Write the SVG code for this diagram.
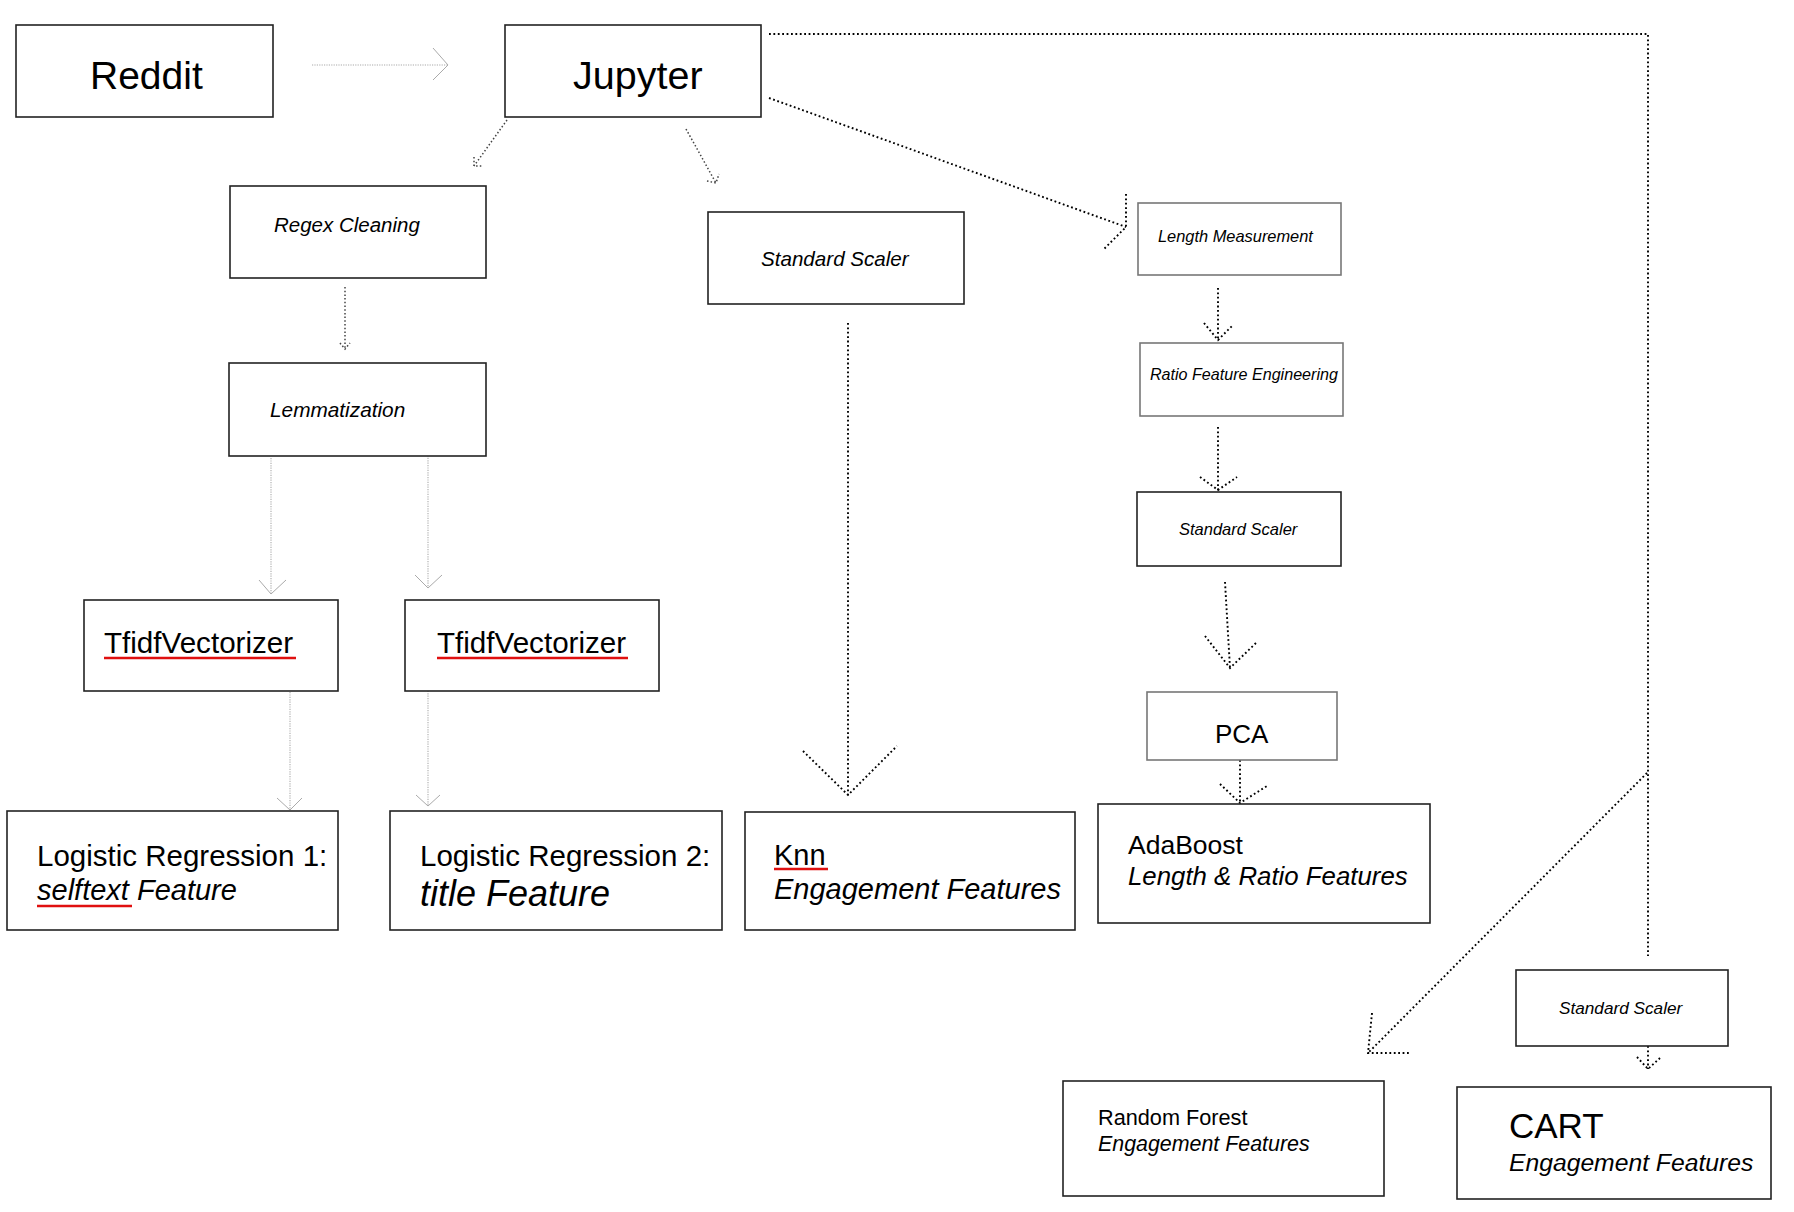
<svg xmlns="http://www.w3.org/2000/svg" width="1794" height="1212" viewBox="0 0 1794 1212">
<style>
  .box{fill:#fff;stroke:#222;stroke-width:1.6}
  .gbox{fill:#fff;stroke:#777;stroke-width:1.6}
  text{font-family:"Liberation Sans",Arial,Helvetica,sans-serif;fill:#000}
  .it{font-style:italic}
  .dk{fill:none;stroke:#000;stroke-width:1.9;stroke-dasharray:1.8 2.6}
  .md{fill:none;stroke:#444;stroke-width:1.5;stroke-dasharray:1.5 2.2}
  .lt{fill:none;stroke:#aaa;stroke-width:1.1;stroke-dasharray:1.2 1.2}
  .lts{fill:none;stroke:#aaa;stroke-width:1}
  .ul{stroke:#e01010;stroke-width:2.4}
</style>
<rect width="1794" height="1212" fill="#fff"/>
<g id="connectors">
  <line class="lt" x1="312" y1="65" x2="448" y2="65"/>
  <polyline class="lts" points="433,48 448,65 433,80"/>
  <line class="md" x1="507" y1="120" x2="474" y2="166"/>
  <polyline class="md" points="474,157 474,166 483,166"/>
  <line class="md" x1="686" y1="129" x2="716" y2="183"/>
  <polyline class="md" points="707,181 716,183 719,174"/>
  <line class="dk" x1="769" y1="98" x2="1126" y2="227"/>
  <polyline class="dk" points="1126,194 1126,227 1103,250"/>
  <polyline class="dk" points="769,34 1648,34 1648,956"/>
  <line class="dk" x1="1647" y1="773" x2="1368" y2="1053"/>
  <polyline class="dk" points="1372,1013 1368,1053 1411,1053"/>
  <line class="dk" x1="1648" y1="1046" x2="1648" y2="1069"/>
  <polyline class="dk" points="1637,1057 1648,1069 1660,1058"/>
  <line class="md" x1="345" y1="287" x2="345" y2="349"/>
  <polyline class="md" points="340,343 345,349 350,343"/>
  <line class="lt" x1="271" y1="458" x2="271" y2="594"/>
  <polyline class="lts" points="259,580 271,594 286,580"/>
  <line class="lt" x1="428" y1="453" x2="428" y2="588"/>
  <polyline class="lts" points="415,575 428,588 442,575"/>
  <line class="lt" x1="290" y1="692" x2="290" y2="810"/>
  <polyline class="lts" points="277,798 290,810 302,798"/>
  <line class="lt" x1="428" y1="686" x2="428" y2="806"/>
  <polyline class="lts" points="416,795 428,806 440,795"/>
  <line class="dk" x1="848" y1="323" x2="848" y2="795"/>
  <polyline class="dk" points="803,751 848,795 897,746"/>
  <line class="dk" x1="1218" y1="288" x2="1218" y2="340"/>
  <polyline class="dk" points="1204,323 1218,340 1232,326"/>
  <line class="dk" x1="1218" y1="427" x2="1218" y2="490"/>
  <polyline class="dk" points="1200,477 1218,490 1237,477"/>
  <line class="dk" x1="1225" y1="582" x2="1230" y2="668"/>
  <polyline class="dk" points="1205,636 1230,668 1256,643"/>
  <line class="dk" x1="1240" y1="760" x2="1240" y2="803"/>
  <polyline class="dk" points="1220,784 1240,803 1267,786"/>
</g>
<g id="reddit">
  <rect class="box" x="16" y="25" width="257" height="92"/>
  <text x="90" y="89" font-size="39">Reddit</text>
</g>
<g id="jupyter">
  <rect class="box" x="505" y="25" width="256" height="92"/>
  <text x="573" y="89" font-size="39.5">Jupyter</text>
</g>
<g id="regex">
  <rect class="box" x="230" y="186" width="256" height="92"/>
  <text class="it" x="274" y="232" font-size="20.5">Regex Cleaning</text>
</g>
<g id="stdscaler1">
  <rect class="box" x="708" y="212" width="256" height="92"/>
  <text class="it" x="761" y="266" font-size="20.6">Standard Scaler</text>
</g>
<g id="length">
  <rect class="gbox" x="1138" y="203" width="203" height="72"/>
  <text class="it" x="1158" y="242" font-size="16.4">Length Measurement</text>
</g>
<g id="ratio">
  <rect class="gbox" x="1140" y="343" width="203" height="73"/>
  <text class="it" x="1150" y="380" font-size="16.1">Ratio Feature Engineering</text>
</g>
<g id="stdscaler2">
  <rect class="box" x="1137" y="492" width="204" height="74"/>
  <text class="it" x="1179" y="535" font-size="16.5">Standard Scaler</text>
</g>
<g id="pca">
  <rect class="gbox" x="1147" y="692" width="190" height="68"/>
  <text x="1215" y="743" font-size="26">PCA</text>
</g>
<g id="lemmatization">
  <rect class="box" x="229" y="363" width="257" height="93"/>
  <text class="it" x="270" y="417" font-size="20.8">Lemmatization</text>
</g>
<g id="tfidf1">
  <rect class="box" x="84" y="600" width="254" height="91"/>
  <text x="104" y="653" font-size="29.6">TfidfVectorizer</text>
  <line class="ul" x1="104" y1="658" x2="296" y2="658"/>
</g>
<g id="tfidf2">
  <rect class="box" x="405" y="600" width="254" height="91"/>
  <text x="437" y="653" font-size="29.6">TfidfVectorizer</text>
  <line class="ul" x1="437" y1="658" x2="628" y2="658"/>
</g>
<g id="lr1">
  <rect class="box" x="7" y="811" width="331" height="119"/>
  <text x="37" y="866" font-size="29.5">Logistic Regression 1:</text>
  <text class="it" x="37" y="900" font-size="29">selftext Feature</text>
  <line class="ul" x1="37" y1="906" x2="132" y2="906"/>
</g>
<g id="lr2">
  <rect class="box" x="390" y="811" width="332" height="119"/>
  <text x="420" y="866" font-size="29.5">Logistic Regression 2:</text>
  <text class="it" x="420" y="906" font-size="36">title Feature</text>
</g>
<g id="knn">
  <rect class="box" x="745" y="812" width="330" height="118"/>
  <text x="774" y="865" font-size="29">Knn</text>
  <line class="ul" x1="774" y1="869" x2="828" y2="869"/>
  <text class="it" x="774" y="899" font-size="29">Engagement Features</text>
</g>
<g id="adaboost">
  <rect class="box" x="1098" y="804" width="332" height="119"/>
  <text x="1128" y="854" font-size="26.5">AdaBoost</text>
  <text class="it" x="1128" y="885" font-size="25.8">Length &amp; Ratio Features</text>
</g>
<g id="stdscaler3">
  <rect class="box" x="1516" y="970" width="212" height="76"/>
  <text class="it" x="1559" y="1014" font-size="17.2">Standard Scaler</text>
</g>
<g id="randomforest">
  <rect class="box" x="1063" y="1081" width="321" height="115"/>
  <text x="1098" y="1125" font-size="21.7">Random Forest</text>
  <text class="it" x="1098" y="1151" font-size="21.4">Engagement Features</text>
</g>
<g id="cart">
  <rect class="box" x="1457" y="1087" width="314" height="112"/>
  <text x="1509" y="1138" font-size="35">CART</text>
  <text class="it" x="1509" y="1171" font-size="24.7">Engagement Features</text>
</g>
</svg>
